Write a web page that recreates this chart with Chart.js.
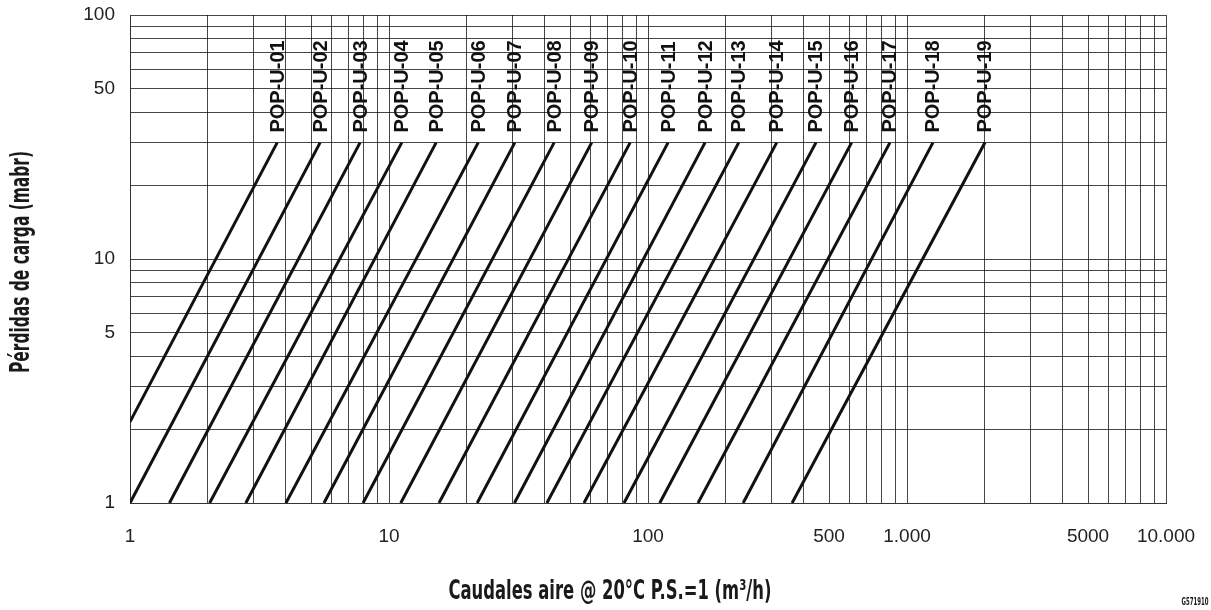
<!DOCTYPE html>
<html>
<head>
<meta charset="utf-8">
<script src="https://cdn.jsdelivr.net/npm/chart.js@4.4.1/dist/chart.umd.min.js"></script>
<style>
  body { margin: 0; background: #fff; }
  #wrap { width: 1211px; height: 610px; position: relative; }
</style>
</head>
<body>
<div id="wrap"><canvas id="lossChart"></canvas></div>
<script>
// Pressure loss curves, one per model (log-log)

const modelNames = ['POP-U-01', 'POP-U-02', 'POP-U-03', 'POP-U-04', 'POP-U-05', 'POP-U-06', 'POP-U-07',
    'POP-U-08', 'POP-U-09', 'POP-U-10', 'POP-U-11', 'POP-U-12', 'POP-U-13', 'POP-U-14', 'POP-U-15',
    'POP-U-16', 'POP-U-17', 'POP-U-18', 'POP-U-19'];
const startFlow = [1, 1, 1.42, 2.03, 2.8, 4.0, 5.61, 7.94, 11.1, 15.6, 21.9, 30.5, 40.7, 56.6, 80.8, 111, 156, 233, 360];
const startLoss = [2.15, 1, 1, 1, 1, 1, 1, 1, 1, 1, 1, 1, 1, 1, 1, 1, 1, 1, 1];
const endFlow = [3.7, 5.42, 7.73, 11.2, 15.2, 22.1, 30.6, 43.4, 60.6, 85.3, 119.5, 166, 224, 314, 445, 611, 859, 1259, 2000];
const endLoss = [30, 30, 30, 30, 30, 30, 30, 30, 30, 30, 30, 30, 30, 30, 30, 30, 30, 30, 30];

const xLabelValues = [1, 10, 100, 500, 1000, 5000, 10000];
const xLabelTexts = ['1', '10', '100', '500', '1.000', '5000', '10.000'];
const yLabelValues = [1, 5, 10, 50, 100];
const yLabelTexts = ['1', '5', '10', '50', '100'];

const xTitle = 'Caudales aire @ 20°C P.S.=1 (m³/h)';
const yTitle = 'Pérdidas de carga (mabr)';
const codeText = 'G571910';

// grid at every 1..9 step of each decade
function logGrid(min, max) {
    let out = [];
    for (let d = min; d < max; d *= 10) {
        for (let k = 1; k < 10; k++) out.push(k * d);
    }
    out.push(max);
    return out;
}

const narrowFont = '"Liberation Sans Narrow", "DejaVu Sans Condensed", sans-serif';

// squeeze text to a target width (the original uses a condensed face)
function fitText(ctx, text, x, y, width, rotate) {
    ctx.save();
    ctx.translate(x, y);
    if (rotate) ctx.rotate(-Math.PI / 2);
    const w = ctx.measureText(text).width;
    ctx.scale(width / w, 1);
    ctx.textAlign = 'center';
    ctx.textBaseline = 'middle';
    ctx.fillText(text, 0, 0);
    ctx.restore();
}

const labelsPlugin = {
    id: 'curveLabels',
    afterDatasetsDraw(chart) {
        const ctx = chart.ctx;
        const xs = chart.scales.x, ys = chart.scales.y;
        ctx.save();
        ctx.fillStyle = '#111';
        ctx.font = 'bold 20px "Liberation Sans", Arial, sans-serif';
        ctx.textAlign = 'left';
        ctx.textBaseline = 'middle';
        for (let i = 0; i < modelNames.length; i++) {
            const px = xs.getPixelForValue(endFlow[i]);
            const py = ys.getPixelForValue(endLoss[i]) - 10;
            ctx.save();
            ctx.translate(px, py);
            ctx.rotate(-Math.PI / 2);
            ctx.fillText(modelNames[i], 0, 1);
            ctx.restore();
        }
        // axis titles
        ctx.fillStyle = '#1a1a1a';
        ctx.font = 'bold 27px ' + narrowFont;
        fitText(ctx, xTitle, 610, 592, 323, false);
        fitText(ctx, yTitle, 22, 262, 222, true);
        ctx.font = 'bold 11px ' + narrowFont;
        fitText(ctx, codeText, 1195, 602, 27, false);
        ctx.restore();
    }
};

const datasets = modelNames.map((name, i) => ({
    label: name,
    data: [{x: startFlow[i], y: startLoss[i]}, {x: endFlow[i], y: endLoss[i]}],
    borderColor: '#111',
    borderWidth: 3,
    pointRadius: 0,
    fill: false,
    tension: 0
}));

new Chart(document.getElementById('lossChart'), {
    type: 'line',
    data: { datasets: datasets },
    options: {
        responsive: true,
        maintainAspectRatio: false,
        animation: false,
        layout: { padding: { left: 0, right: 45, top: 15, bottom: 0 } },
        scales: {
            x: {
                type: 'logarithmic',
                min: 1,
                max: 10000,
                afterBuildTicks: (scale) => { scale.ticks = logGrid(1, 10000).map(v => ({value: v})); },
                afterFit: (scale) => {
                    scale.height = 107;
                    scale.paddingLeft = 0;
                    scale.paddingRight = 0;
                },
                grid: { color: 'rgba(0,0,0,0.72)', lineWidth: 1, drawTicks: false },
                border: { color: '#333', width: 1 },
                ticks: {
                    autoSkip: false,
                    maxRotation: 0,
                    padding: 22,
                    color: '#222',
                    font: { family: '"Liberation Sans", Arial, sans-serif', size: 19 },
                    callback: (v) => {
                        const k = xLabelValues.indexOf(v);
                        return k >= 0 ? xLabelTexts[k] : '';
                    }
                }
            },
            y: {
                type: 'logarithmic',
                min: 1,
                max: 100,
                afterBuildTicks: (scale) => { scale.ticks = logGrid(1, 100).map(v => ({value: v})); },
                afterFit: (scale) => {
                    scale.width = 130;
                    scale.paddingTop = 0;
                    scale.paddingBottom = 0;
                },
                grid: { color: 'rgba(0,0,0,0.72)', lineWidth: 1, drawTicks: false },
                border: { color: '#333', width: 1 },
                ticks: {
                    autoSkip: false,
                    padding: 15,
                    color: '#222',
                    font: { family: '"Liberation Sans", Arial, sans-serif', size: 19 },
                    callback: (v) => {
                        const k = yLabelValues.indexOf(v);
                        return k >= 0 ? yLabelTexts[k] : '';
                    }
                }
            }
        },
        plugins: {
            legend: { display: false },
            tooltip: { enabled: false }
        }
    },
    plugins: [labelsPlugin]
});
</script>
</body>
</html>
